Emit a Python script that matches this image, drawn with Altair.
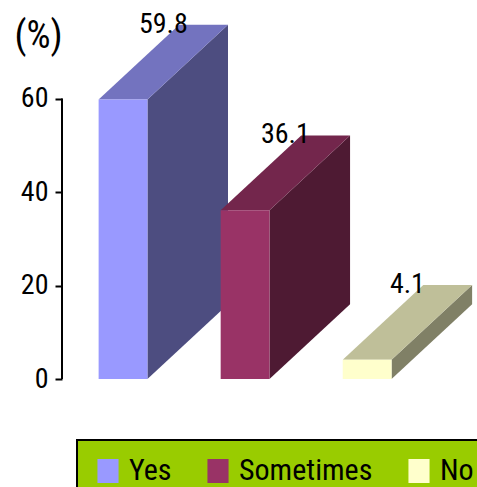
import altair as alt
import pandas as pd

# Survey answers and their shares (%)
answers = ["Yes", "Sometimes", "No"]
percent = [59.8, 36.1, 4.1]
y_ticks = [0, 20, 40, 60]

# Face shading: front, right side (darker), top (medium)
front_colors = ["#9999FF", "#993366", "#FFFFCC"]
side_colors = ["#4D4D80", "#4E1A33", "#808066"]
top_colors = ["#7373BF", "#73264C", "#BFBF99"]

HALF = 0.2       # half width of a bar's front face (x units)
DX = 0.66        # depth offset along x (x units)
DY = 16.0        # depth offset along y (percent units)
LABEL_DX = 0.33  # value label offset from bar centre
FONT = "Roboto Condensed, Liberation Sans, sans-serif"

front_rows, side_rows, top_rows, label_rows = [], [], [], []
for i, (a, v) in enumerate(zip(answers, percent)):
    c = i + 0.5
    xl, xr = c - HALF, c + HALF
    front_rows.append({"answer": a, "x0": xl, "x1": xr, "v": v})
    side_rows += [
        {"answer": a, "x": xr, "lo": 0.0, "hi": v},
        {"answer": a, "x": xr + DX, "lo": DY, "hi": v + DY},
    ]
    top_rows += [
        {"answer": a, "y": v, "xa": xl, "xb": xr},
        {"answer": a, "y": v + DY, "xa": xl + DX, "xb": xr + DX},
    ]
    label_rows.append({"answer": a, "x": c + LABEL_DX, "y": v + DY, "text": f"{v:.1f}"})

front = pd.DataFrame(front_rows)
side = pd.DataFrame(side_rows)
top = pd.DataFrame(top_rows)
labels = pd.DataFrame(label_rows)
axis_line = pd.DataFrame({"lo": [min(y_ticks)], "hi": [max(y_ticks)]})

xs = alt.Scale(domain=[0, 3.4], nice=False, zero=False)
ys = alt.Scale(domain=[0, 80], nice=False)

y_axis = alt.Axis(
    values=y_ticks,
    domain=False,
    grid=False,
    ticks=True,
    tickColor="black",
    tickWidth=2,
    tickSize=7,
    labelFont=FONT,
    labelFontSize=28,
    labelColor="black",
    labelPadding=7,
    title="(%)",
    titleAngle=0,
    titleX=-24,
    titleY=31,
    titleAlign="center",
    titleBaseline="middle",
    titleFont=FONT,
    titleFontSize=38,
    titleFontWeight="normal",
    titleColor="black",
)

sides = alt.Chart(side).mark_area(opacity=1, interpolate="linear").encode(
    x=alt.X("x:Q", scale=xs, axis=None),
    y=alt.Y("lo:Q", scale=ys, axis=y_axis),
    y2="hi:Q",
    color=alt.Color("answer:N", scale=alt.Scale(domain=answers, range=side_colors), legend=None),
)

tops = alt.Chart(top).mark_area(opacity=1, orient="horizontal", interpolate="linear").encode(
    y=alt.Y("y:Q", scale=ys, axis=y_axis),
    x=alt.X("xa:Q", scale=xs, axis=None),
    x2="xb:Q",
    color=alt.Color("answer:N", scale=alt.Scale(domain=answers, range=top_colors), legend=None),
)

fronts = alt.Chart(front).mark_rect(opacity=1).encode(
    x=alt.X("x0:Q", scale=xs, axis=None),
    x2="x1:Q",
    y=alt.Y("v:Q", scale=ys, axis=y_axis),
    y2=alt.Y2(datum=0),
    color=alt.Color(
        "answer:N",
        scale=alt.Scale(domain=answers, range=front_colors),
        legend=alt.Legend(
            title=None,
            orient="none",
            direction="horizontal",
            legendX=15,
            legendY=435,
            symbolType="M-0.88,-1H0.88V1H-0.88Z",
            symbolSize=576,
            symbolStrokeWidth=0,
            labelFont=FONT,
            labelFontSize=30,
            labelColor="black",
            labelLimit=0,
            labelOffset=6,
            columnPadding=31,
            padding=16,
            fillColor="#99CC00",
        ),
    ),
)

axis_rule = alt.Chart(axis_line).mark_rule(color="black", strokeWidth=2).encode(
    x=alt.value(0),
    y=alt.Y("lo:Q", scale=ys, axis=y_axis),
    y2="hi:Q",
)

value_text = alt.Chart(labels).mark_text(
    font=FONT, fontSize=28, color="black", align="center", baseline="middle"
).encode(
    x=alt.X("x:Q", scale=xs, axis=None),
    y=alt.Y("y:Q", scale=ys, axis=y_axis),
    text="text:N",
)

chart = (
    alt.layer(sides, tops, fronts, axis_rule, value_text)
    .resolve_scale(color="independent")
    .properties(
        width=415,
        height=374,
        autosize=alt.AutoSizeParams(type="none"),
        padding={"left": 62, "top": 5, "right": 0, "bottom": 108},
        background="white",
    )
    .configure_view(stroke=None)
    .configure_legend(strokeColor="black", strokeWidth=2)
)

chart.save("out.html", embed_options={"renderer": "svg", "actions": False})
